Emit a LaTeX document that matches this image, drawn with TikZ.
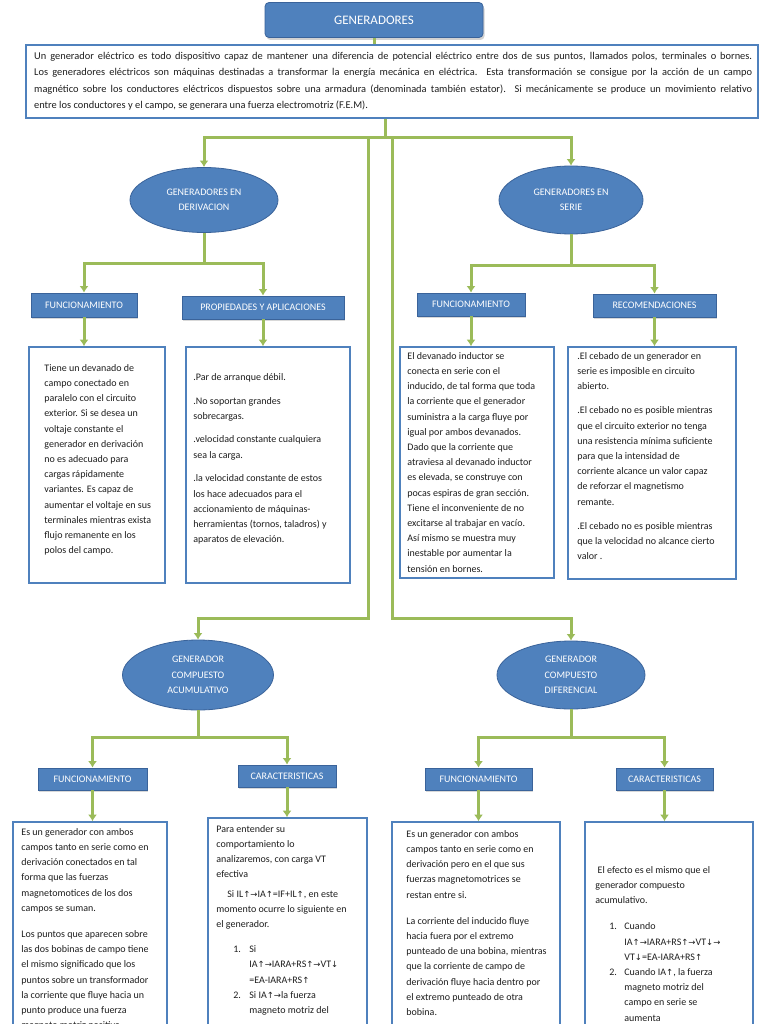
\documentclass[tikz,border=0pt]{standalone}
\usepackage{fontspec}
\setmainfont{Carlito}
\newfontfamily\arrowfont{DejaVu Sans}
\usetikzlibrary{arrows.meta,shapes.geometric,shadows}

\definecolor{ovalblue}{HTML}{4F81BD}
\definecolor{edgeblue}{HTML}{3A639A}
\definecolor{linkgreen}{HTML}{9BBB59}
\definecolor{inkgray}{HTML}{1E1E1E}

% flechas de las formulas
\newcommand{\arrU}{{\arrowfont\fontsize{8.5}{10}\selectfont ↑}}
\newcommand{\arrD}{{\arrowfont\fontsize{8.5}{10}\selectfont ↓}}
\newcommand{\arrR}{{\arrowfont\fontsize{8.5}{10}\selectfont →}}

\tikzset{
  link/.style={draw=linkgreen, line width=3pt},
  headbox/.style={rectangle, rounded corners=4pt, fill=ovalblue, draw=edgeblue, line width=0.8pt,
    text=white, font=\fontsize{13}{15}\selectfont, minimum width=218pt, minimum height=35pt,
    drop shadow={opacity=0.35, shadow xshift=1.5pt, shadow yshift=-2.5pt}},
  oval/.style={ellipse, fill=ovalblue, draw=edgeblue, line width=0.8pt, text=white, align=center,
    inner sep=0pt, font=\fontsize{10}{15.5}\selectfont},
  tag/.style={rectangle, fill=ovalblue, draw=edgeblue, line width=0.8pt, text=white, inner sep=0pt,
    font=\fontsize{10}{11}\selectfont,
    drop shadow={opacity=0.3, shadow xshift=1pt, shadow yshift=-1.5pt}},
  panel/.style={rectangle, draw=ovalblue, line width=1.6pt, fill=white, inner sep=0pt},
  note/.style={anchor=north west, inner sep=0pt, align=left, text=inkgray,
    font=\fontsize{10}{15.2}\selectfont},
}

\begin{document}
\begin{tikzpicture}[x=1pt, y=-1pt, >={Latex[length=6.5pt,width=9pt]}]
	\fill[white] (0,0) rectangle (768,1024);
	\useasboundingbox (0,0) rectangle (768,1024);

	% titulo y definicion
	\node[headbox] (gen) at (374,20) {GENERADORES};
	\node[panel, minimum width=732pt, minimum height=73pt] (def) at (392,81.5) {};
	\node[note, font=\fontsize{10.4}{16.5}\selectfont] (deftxt) at (34,52) {%
		\makebox[718pt][s]{Un generador eléctrico es todo dispositivo capaz de mantener una diferencia de potencial eléctrico entre dos de sus puntos, llamados polos, terminales o bornes.}\\
		\makebox[718pt][s]{Los generadores eléctricos son máquinas destinadas a transformar la energía mecánica en eléctrica. Esta transformación se consigue por la acción de un campo}\\
		\makebox[718pt][s]{magnético sobre los conductores eléctricos dispuestos sobre una armadura (denominada también estator). Si mecánicamente se produce un movimiento relativo}\\
		entre los conductores y el campo, se generara una fuerza electromotriz (F.E.M).};
	\draw [link] (gen.south) -- (gen.south |- def.north);

	% tipos de generador
	\node[oval, minimum width=148pt, minimum height=65pt] (shunt) at (204,200) {GENERADORES EN\\DERIVACION};
	\node[oval, minimum width=144pt, minimum height=68pt] (series) at (571,200) {GENERADORES EN\\SERIE};
	\node[oval, minimum width=151pt, minimum height=70pt] (cumul) at (198,675) {GENERADOR\\COMPUESTO\\ACUMULATIVO};
	\node[oval, minimum width=148pt, minimum height=68pt] (differ) at (571,675) {GENERADOR\\COMPUESTO\\DIFERENCIAL};

	\coordinate (hub) at (385,138);
	\coordinate (hubL) at (368,138);
	\coordinate (hubR) at (392,138);
	\coordinate (lowbar) at (0,618);
	\draw [link, ->] (def.south -| hub) -- (hub) -| (shunt.north);
	\draw [link, ->] (hub) -| (series.north);
	\draw [link, ->] (hubL) |- (lowbar -| cumul.north) -- (cumul.north);
	\draw [link, ->] (hubR) |- (lowbar -| differ.north) -- (differ.north);

	% etiquetas
	\node[tag, minimum width=106pt, minimum height=24pt] (shfun) at (84,305) {FUNCIONAMIENTO};
	\node[tag, minimum width=162pt, minimum height=23pt] (shprop) at (263,307.5) {PROPIEDADES Y APLICACIONES};
	\node[tag, minimum width=108pt, minimum height=23pt] (sefun) at (471,304.5) {FUNCIONAMIENTO};
	\node[tag, minimum width=123pt, minimum height=23pt] (serec) at (654.5,305.5) {RECOMENDACIONES};
	\node[tag, minimum width=109pt, minimum height=22pt] (cufun) at (92.5,779) {FUNCIONAMIENTO};
	\node[tag, minimum width=98pt, minimum height=22pt] (cucar) at (287,776) {CARACTERISTICAS};
	\node[tag, minimum width=107pt, minimum height=22pt] (difun) at (478.5,779) {FUNCIONAMIENTO};
	\node[tag, minimum width=97pt, minimum height=22pt] (dicar) at (664.5,779) {CARACTERISTICAS};

	\draw [link, ->] (shunt.south) -- ++(0,31) -| (shfun.north);
	\draw [link, ->] (shunt.south) -- ++(0,31) -| (shprop.north);
	\draw [link, ->] (series.south) -- ++(0,31) -| (sefun.north);
	\draw [link, ->] (series.south) -- ++(0,31) -| (serec.north);
	\draw [link, ->] (cumul.south) -- ++(0,27) -| (cufun.north);
	\draw [link, ->] (cumul.south) -- ++(0,27) -| (cucar.north);
	\draw [link, ->] (differ.south) -- ++(0,28) -| (difun.north);
	\draw [link, ->] (differ.south) -- ++(0,28) -| (dicar.north);

	% cuadros de texto
	\node[panel, minimum width=136pt, minimum height=236pt] (shfunbox) at (97,465) {};
	\node[panel, minimum width=164pt, minimum height=236pt] (shpropbox) at (268,465) {};
	\node[panel, minimum width=154pt, minimum height=231pt] (sefunbox) at (477,462.5) {};
	\node[panel, minimum width=168pt, minimum height=232pt] (serecbox) at (652,463) {};
	\node[panel, minimum width=154pt, minimum height=240pt] (cufunbox) at (90,942) {};
	\node[panel, minimum width=159pt, minimum height=240pt] (cucarbox) at (287.5,938) {};
	\node[panel, minimum width=168pt, minimum height=240pt] (difunbox) at (476,942) {};
	\node[panel, minimum width=168pt, minimum height=240pt] (dicarbox) at (669,942) {};

	\foreach \t in {shfun,shprop,sefun,serec,cufun,cucar,difun,dicar}
		\draw [link, ->] (\t.south) -- (\t.south |- \t box.north);

	\node[note] (shfuntxt) at ([shift={(16,18)}]shfunbox.north west) {%
		Tiene un devanado de\\ campo conectado en\\ paralelo con el circuito\\ exterior. Si se desea un\\
		voltaje constante el\\ generador en derivación\\ no es adecuado para\\ cargas rápidamente\\
		variantes. Es capaz de\\ aumentar el voltaje en sus\\ terminales mientras exista\\
		flujo remanente en los\\ polos del campo.};
	\node[note] (shproptxt) at ([shift={(8,27)}]shpropbox.north west) {%
		.Par de arranque débil.\\[8.5pt]
		.No soportan grandes\\ sobrecargas.\\[8.5pt]
		.velocidad constante cualquiera\\ sea la carga.\\[8.5pt]
		.la velocidad constante de estos\\ los hace adecuados para el\\ accionamiento de máquinas-\\
		herramientas (tornos, taladros) y\\ aparatos de elevación.};
	\node[note] (sefuntxt) at ([shift={(8,6)}]sefunbox.north west) {%
		El devanado inductor se\\ conecta en serie con el\\ inducido, de tal forma que toda\\
		la corriente que el generador\\ suministra a la carga fluye por\\ igual por ambos devanados.\\
		Dado que la corriente que\\ atraviesa al devanado inductor\\ es elevada, se construye con\\
		pocas espiras de gran sección.\\ Tiene el inconveniente de no\\ excitarse al trabajar en vacío.\\
		Así mismo se muestra muy\\ inestable por aumentar la\\ tensión en bornes.};
	\node[note] (serectxt) at ([shift={(10,6)}]serecbox.north west) {%
		.El cebado de un generador en\\ serie es imposible en circuito\\ abierto.\\[9pt]
		.El cebado no es posible mientras\\ que el circuito exterior no tenga\\ una resistencia mínima suficiente\\
		para que la intensidad de\\ corriente alcance un valor capaz\\ de reforzar el magnetismo\\ remante.\\[9pt]
		.El cebado no es posible mientras\\ que la velocidad no alcance cierto\\ valor .};
	\node[note] (cufuntxt) at ([shift={(9,7)}]cufunbox.north west) {%
		Es un generador con ambos\\ campos tanto en serie como en\\ derivación conectados en tal\\
		forma que las fuerzas\\ magnetomotices de los dos\\ campos se suman.\\[11pt]
		Los puntos que aparecen sobre\\ las dos bobinas de campo tiene\\ el mismo significado que los\\
		puntos sobre un transformador\\ la corriente que fluye hacia un\\ punto produce una fuerza\\
		magneto motriz positiva.};
	\node[note] (cucartxt) at ([shift={(9,8)}]cucarbox.north west) {%
		Para entender su\\ comportamiento lo\\ analizaremos, con carga VT\\ efectiva\\[4pt]
		\hspace*{11pt}Si IL\arrU\arrR IA\arrU=IF+IL\arrU, en este\\ momento ocurre lo siguiente en\\ el generador.\\[10pt]
		\hspace*{17pt}\makebox[16pt][l]{1.}Si\\
		\hspace*{33pt}IA\arrU\arrR IARA+RS\arrU\arrR VT\arrD\\
		\hspace*{33pt}=EA-IARA+RS\arrU\\
		\hspace*{17pt}\makebox[16pt][l]{2.}Si IA\arrU\arrR la fuerza\\
		\hspace*{33pt}magneto motriz del};
	\node[note] (difuntxt) at ([shift={(15,9)}]difunbox.north west) {%
		Es un generador con ambos\\ campos tanto en serie como en\\ derivación pero en el que sus\\
		fuerzas magnetomotrices se\\ restan entre si.\\[11pt]
		La corriente del inducido fluye\\ hacia fuera por el extremo\\ punteado de una bobina, mientras\\
		que la corriente de campo de\\ derivación fluye hacia dentro por\\ el extremo punteado de otra\\ bobina.};
	\node[note] (dicartxt) at ([shift={(11,45)}]dicarbox.north west) {%
		\ El efecto es el mismo que el\\ generador compuesto\\ acumulativo.\\[11pt]
		\hspace*{14pt}\makebox[15pt][l]{1.}Cuando\\
		\hspace*{29pt}IA\arrU\arrR IARA+RS\arrU\arrR VT\arrD\arrR\\
		\hspace*{29pt}VT\arrD=EA-IARA+RS\arrU\\
		\hspace*{14pt}\makebox[15pt][l]{2.}Cuando IA\arrU, la fuerza\\
		\hspace*{29pt}magneto motriz del\\ \hspace*{29pt}campo en serie se\\ \hspace*{29pt}aumenta};
\end{tikzpicture}
\end{document}
